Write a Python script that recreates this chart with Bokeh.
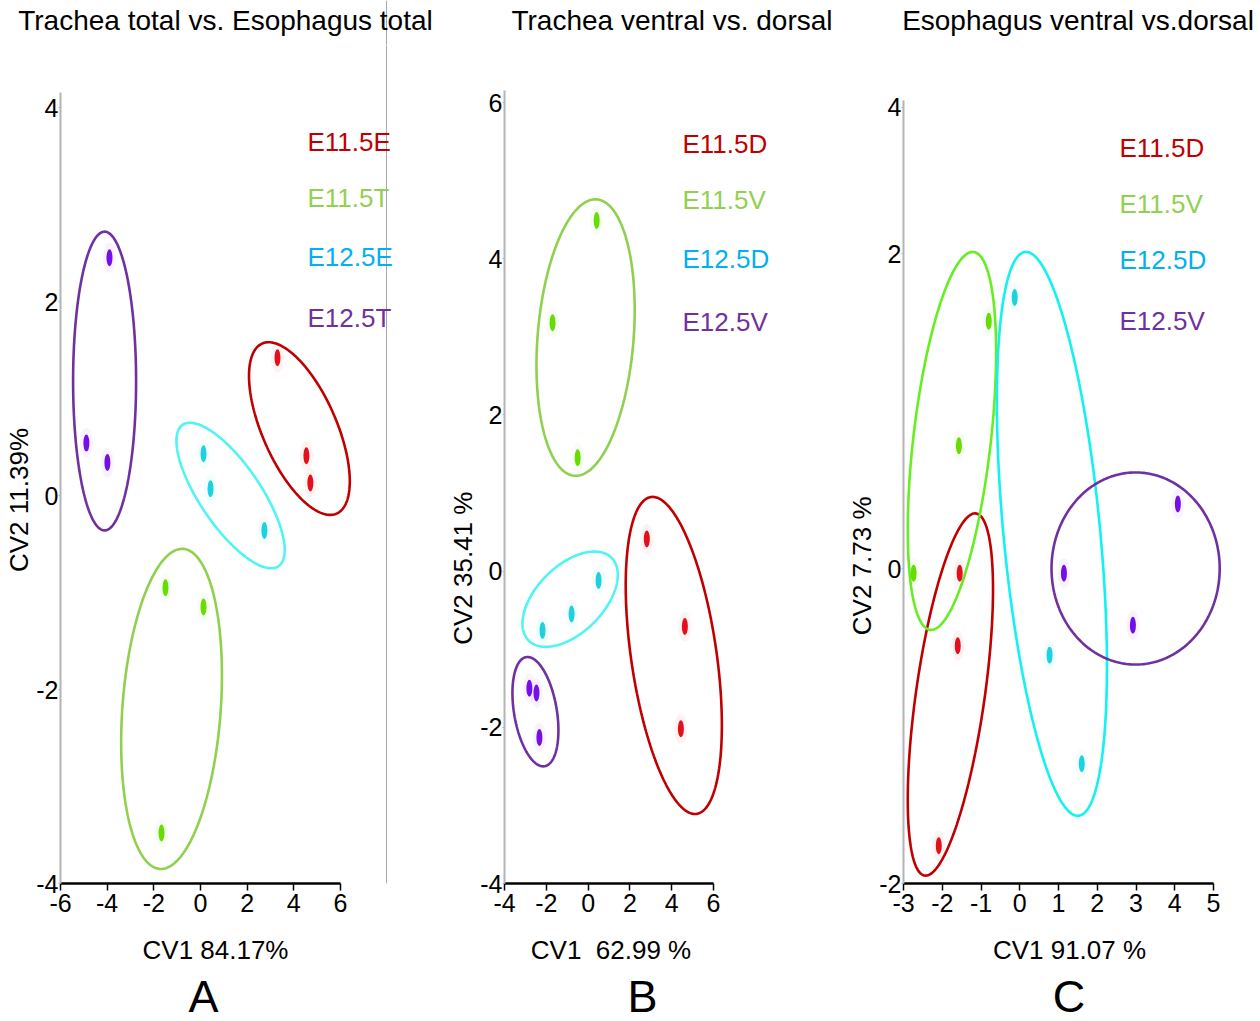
import numpy as np
from bokeh.plotting import figure
from bokeh.layouts import row, column
from bokeh.models import Label, FixedTicker, Range1d, Span
from bokeh.embed import file_html
from bokeh.resources import INLINE

FONT = "Liberation Sans"

# ---------------- data ----------------
# Panel A: Trachea total vs. Esophagus total
a_labels = ["E11.5E", "E11.5T", "E12.5E", "E12.5T"]
a_red_x = [3.30, 4.54, 4.71]
a_red_y = [1.42, 0.41, 0.13]
a_green_x = [-1.50, 0.13, -1.67]
a_green_y = [-0.95, -1.15, -3.48]
a_cyan_x = [0.13, 0.43, 2.74]
a_cyan_y = [0.43, 0.07, -0.36]
a_purple_x = [-3.90, -4.89, -3.99]
a_purple_y = [2.45, 0.54, 0.34]
# ellipses: centre x, centre y, half extent x, half extent y, correlation
a_red_ell = [4.24, 0.69, 2.16, 0.89, -0.61]
a_green_ell = [-1.24, -2.20, 2.16, 1.65, 0.21]
a_cyan_ell = [1.29, 0.00, 2.32, 0.75, -0.75]
a_purple_ell = [-4.11, 1.18, 1.35, 1.54, 0.0]

# Panel B: Trachea ventral vs. dorsal
b_labels = ["E11.5D", "E11.5V", "E12.5D", "E12.5V"]
b_red_x = [2.81, 4.63, 4.44]
b_red_y = [0.41, -0.71, -2.02]
b_green_x = [0.41, -1.70, -0.50]
b_green_y = [4.49, 3.18, 1.45]
b_cyan_x = [-2.18, -0.79, 0.50]
b_cyan_y = [-0.76, -0.55, -0.12]
b_purple_x = [-2.81, -2.47, -2.33]
b_purple_y = [-1.50, -1.56, -2.13]
b_red_ell = [4.10, -1.08, 2.30, 2.03, -0.44]
b_green_ell = [-0.12, 2.99, 2.35, 1.77, 0.20]
b_cyan_ell = [-0.86, -0.36, 2.28, 0.61, 0.51]
b_purple_ell = [-2.52, -1.80, 1.10, 0.70, -0.34]

# Panel C: Esophagus ventral vs. dorsal
c_labels = ["E11.5D", "E11.5V", "E12.5D", "E12.5V"]
c_red_x = [-1.55, -1.60, -2.09]
c_red_y = [-0.03, -0.49, -1.76]
c_green_x = [-2.74, -1.57, -0.80]
c_green_y = [-0.03, 0.78, 1.57]
c_cyan_x = [-0.13, 0.77, 1.60]
c_cyan_y = [1.72, -0.55, -1.24]
c_purple_x = [4.08, 1.14, 2.92]
c_purple_y = [0.41, -0.03, -0.36]
c_red_ell = [-1.79, -0.80, 1.10, 1.15, 0.58]
c_green_ell = [-1.75, 0.81, 1.14, 1.20, 0.47]
c_cyan_ell = [0.83, 0.22, 1.42, 1.79, -0.47]
c_purple_ell = [2.99, 0.00, 2.17, 0.61, 0.0]

titles = ["Trachea total vs. Esophagus total", "Trachea ventral vs. dorsal",
          "Esophagus ventral vs.dorsal"]
xlabels = ["CV1 84.17%", "CV1 \u00a062.99 %", "CV1 91.07 %"]
ylabels = ["CV2 11.39%", "CV2 35.41 %", "CV2 7.73 %"]
letters = ["A", "B", "C"]

# ---------------- styles ----------------
COL_TEXT = ["#C00000", "#92D050", "#00B0F0", "#7030A0"]
COL_PT = ["#E3101C", "#66DD00", "#1CD2E0", "#7410E6"]
ELL_AB = ["#C00000", "#8FD14F", "#50F4F4", "#7030A0"]
ELL_C = ["#C00000", "#66EE22", "#12F2F2", "#7030A0"]

W, H = 1260, 1021
TOP_H = 45          # title strip
BOT_Y = 930         # start of bottom strip
MID_H = BOT_Y - TOP_H
FB = 883            # frame bottom (page px)
SEP_X = 386         # separator line of panel A (page px)
LB = 27             # left border of each panel (room for y tick labels)
ROT_SHIFT = 27      # centring correction for rotated labels
HALF_BOX = 15       # half the line box of a 26px rotated label


def ell_xy(e, n=240):
    cx, cy, hx, hy, r = e
    t = np.linspace(0, 2 * np.pi, n)
    return cx + hx * np.cos(t), cy + hy * (r * np.cos(t) + np.sqrt(1 - r * r) * np.sin(t))


def text_fig(x_px, y_px, w, h):
    """Blank figure whose coordinates are page pixels (for text only)."""
    f = figure(width=w, height=h, title=None, x_range=Range1d(x_px, x_px + w),
               y_range=Range1d(y_px + h, y_px), output_backend="svg",
               toolbar_location=None, x_axis_type=None, y_axis_type=None,
               min_border_left=0, min_border_right=0, min_border_top=0,
               min_border_bottom=0)
    f.grid.visible = False
    f.outline_line_color = None
    return f


def txt(f, x, y, s, size, color="#000000", align="center", angle=0.0):
    f.add_layout(Label(x=x, y=y, text=s, text_color=color, text_font=FONT,
                       text_font_size=size, text_align=align, text_baseline="middle",
                       angle=angle))


def make_panel(page_left, width, x0, xs, xticks, y0, ys, yticks, ybound_top,
               groups, ells, legend, ell_cols, legend_pos, yoverrides=None, sep=None):
    fl = page_left + LB
    x_end = x0 + (page_left + width - fl) / xs
    y_end = y0 + (FB - TOP_H) / ys
    p = figure(width=width, height=MID_H, title=None, x_range=Range1d(x0, x_end),
               y_range=Range1d(y0, y_end), output_backend="svg", toolbar_location=None,
               min_border_left=LB, min_border_right=0,
               min_border_top=0, min_border_bottom=BOT_Y - FB)
    p.grid.visible = False
    p.outline_line_color = None

    xa = p.xaxis[0]
    xa.ticker = FixedTicker(ticks=xticks)
    xa.bounds = (xticks[0], xticks[-1])
    xa.axis_line_color = "#000000"
    xa.axis_line_width = 2.5
    xa.major_tick_line_color = "#000000"
    xa.major_tick_line_width = 1.5
    xa.major_tick_out = 7
    xa.major_tick_in = 0
    xa.minor_tick_line_color = None
    xa.major_label_text_font = FONT
    xa.major_label_text_font_size = "25px"
    xa.major_label_text_color = "#000000"
    xa.major_label_standoff = 3
    xa.major_label_overrides = {t: str(t) for t in xticks}

    ya = p.yaxis[0]
    ya.ticker = FixedTicker(ticks=yticks)
    ya.bounds = (y0, ybound_top)
    ya.axis_line_color = "#b4b4b4"
    ya.axis_line_width = 2
    ya.major_tick_line_color = "#b4b4b4"
    ya.major_tick_out = 2
    ya.major_tick_in = 0
    ya.minor_tick_line_color = None
    ya.major_label_text_font = FONT
    ya.major_label_text_font_size = "25px"
    ya.major_label_text_color = "#000000"
    ya.major_label_standoff = 0
    ov = {t: str(t) for t in yticks}
    if yoverrides:
        ov.update(yoverrides)
    ya.major_label_overrides = ov

    if sep is not None:
        p.add_layout(Span(location=x0 + (sep - fl) / xs, dimension="height",
                          line_color="#a8a8a8", line_width=1))

    for e, c in zip(ells, ell_cols):
        ex, ey = ell_xy(e)
        p.line(ex, ey, line_color=c, line_width=2.6)
    for (gx, gy), c in zip(groups, COL_PT):
        p.ellipse(x=gx, y=gy, width=13, height=30, width_units="screen",
                  height_units="screen", fill_color=c, fill_alpha=0.05, line_color=None)
        p.ellipse(x=gx, y=gy, width=6, height=17, width_units="screen",
                  height_units="screen", fill_color=c, line_color=None)

    lx, lcen = legend_pos
    for s, c, cy in zip(legend, COL_TEXT, lcen):
        p.add_layout(Label(x=x0 + (lx - fl) / xs, y=y0 + (FB - cy) / ys, text=s,
                           text_color=c, text_font=FONT, text_font_size="26px",
                           text_align="left", text_baseline="middle"))
    return p


# frame left edges of the three panels (page px)
FA, FBL, FC = 60, 504, 903

pa = make_panel(
    FA - LB, 445 - (FA - LB), -6, 23.33, [-6, -4, -2, 0, 2, 4, 6], -4, 97.0,
    [-4, -2, 0, 2, 4], 4.15,
    [(a_red_x, a_red_y), (a_green_x, a_green_y), (a_cyan_x, a_cyan_y),
     (a_purple_x, a_purple_y)],
    [a_red_ell, a_green_ell, a_cyan_ell, a_purple_ell], a_labels, ELL_AB,
    (307, [141, 197.5, 256, 317.5]), sep=SEP_X)

pb = make_panel(
    FBL - LB, 845 - (FBL - LB), -4, 20.9, [-4, -2, 0, 2, 4, 6], -4, 78.1,
    [-4, -2, 0, 2, 4, 6], 6.15,
    [(b_red_x, b_red_y), (b_green_x, b_green_y), (b_cyan_x, b_cyan_y),
     (b_purple_x, b_purple_y)],
    [b_red_ell, b_green_ell, b_cyan_ell, b_purple_ell], b_labels, ELL_AB,
    (682, [143, 199.5, 258.5, 321.5]))

pc = make_panel(
    FC - LB, W - (FC - LB), -3, 38.75, [-3, -2, -1, 0, 1, 2, 3, 4, 5], -2, 157.5,
    [-2, 0, 2, 2.93], 2.97,
    [(c_red_x, c_red_y), (c_green_x, c_green_y), (c_cyan_x, c_cyan_y),
     (c_purple_x, c_purple_y)],
    [c_red_ell, c_green_ell, c_cyan_ell, c_purple_ell], c_labels, ELL_C,
    (1119, [147.5, 203, 259.5, 320.5]), yoverrides={2.93: "4"})

# y-axis title strips (left of each panel)
strips = []
for left, right, s, cy in [(0, FA - LB, ylabels[0], 498), (445, FBL - LB, ylabels[1], 570),
                           (845, FC - LB, ylabels[2], 567.5)]:
    f = text_fig(left, TOP_H, right - left, MID_H)
    cx = min(right - HALF_BOX, (left + right) / 2 + 6)
    txt(f, cx, cy + ROT_SHIFT, s, "26px", angle=np.pi / 2)
    strips.append(f)

# title strip
top = text_fig(0, 0, W, TOP_H)
top.add_layout(Span(location=SEP_X, dimension="height", line_color="#a8a8a8", line_width=1))
for s, cx in zip(titles, [225, 671.5, 1077.5]):
    txt(top, cx, 20, s, "28px")

# bottom strip: axis titles and panel letters
bot = text_fig(0, BOT_Y, W, H - BOT_Y)
for s, cx in zip(xlabels, [215, 610.5, 1069]):
    txt(bot, cx, 949.5, s, "26px")
for s, cx in zip(letters, [203, 642, 1068.5]):
    txt(bot, cx, 995.5, s, "45px")

layout = column(top, row(strips[0], pa, strips[1], pb, strips[2], pc), bot)
with open("out.html", "w") as f:
    f.write(file_html(layout, INLINE))
